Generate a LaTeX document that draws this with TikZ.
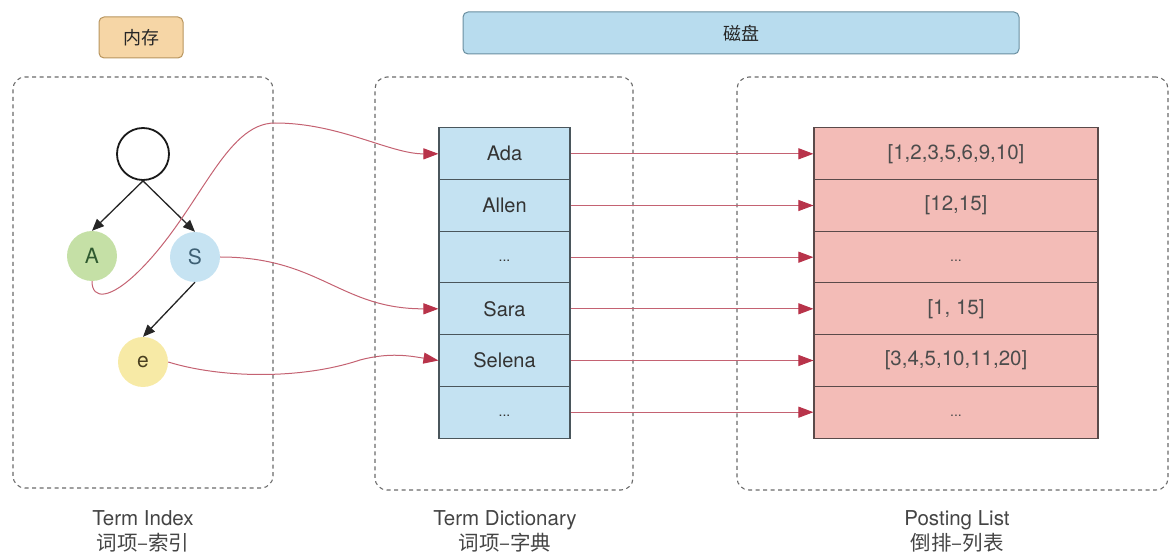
\documentclass[tikz,border=0pt]{standalone}
\usepackage{fontspec}
\setmainfont{TeX Gyre Heros}
\newfontfamily\cjk{Noto Sans CJK SC}
\usetikzlibrary{arrows.meta}

\definecolor{memfill}{HTML}{F6D6A6}
\definecolor{memline}{HTML}{B8955E}
\definecolor{diskfill}{HTML}{B8DCEE}
\definecolor{diskline}{HTML}{6A8FA0}
\definecolor{dictfill}{HTML}{C4E2F2}
\definecolor{dictline}{HTML}{4A565C}
\definecolor{postfill}{HTML}{F3BCB7}
\definecolor{postline}{HTML}{5A4A4A}
\definecolor{afill}{HTML}{C5E0A6}
\definecolor{sfill}{HTML}{C6E3F2}
\definecolor{efill}{HTML}{F7EAA6}
\definecolor{atext}{HTML}{2F5A30}
\definecolor{stext}{HTML}{3D5F73}
\definecolor{etext}{HTML}{4A4020}
\definecolor{linkred}{HTML}{C46272}
\definecolor{tipred}{HTML}{B8334A}
\definecolor{frame}{HTML}{6A6A6A}
\definecolor{labeltext}{HTML}{444444}

% small ellipsis sitting just below the row centre
\newcommand{\more}{\smash{\raisebox{-4pt}{\fontsize{14}{16}\selectfont ...}}}

\tikzset{
  tag/.style={draw, rounded corners=5pt, line width=1pt, inner sep=0pt, font=\cjk\fontsize{18}{20}\selectfont, text=black!85},
  area/.style={draw=frame, dash pattern=on 4pt off 3.5pt, line width=1.1pt, rounded corners=12pt, inner sep=0pt},
  dictrow/.style={draw=dictline, fill=dictfill, line width=1.1pt, minimum width=131pt, minimum height=51.7pt, inner sep=0pt, text=black!80, font=\fontsize{20}{22}\selectfont},
  postrow/.style={draw=postline, fill=postfill, line width=1.1pt, minimum width=284pt, minimum height=51.7pt, inner sep=0pt, text=black!70, font=\fontsize{20.5}{22}\selectfont},
  leaf/.style={circle, minimum size=50pt, inner sep=0pt, font=\fontsize{21}{22}\selectfont},
  treeedge/.style={draw=black!85, line width=1.3pt, -{Triangle[length=12pt,width=10pt]}},
  link/.style={draw=linkred, line width=1pt, -{Triangle[length=15pt,width=11pt,color=tipred]}},
  caption/.style={align=center, text=labeltext, font=\fontsize{20.5}{25}\selectfont},
}

\begin{document}
\begin{tikzpicture}[x=1pt,y=-1pt]
\useasboundingbox (0,0) rectangle (1176,556);

% storage tags
\node[tag, fill=memfill, draw=memline, minimum width=84pt, minimum height=41pt] (mem) at (141,37.5) {内存};
\node[tag, fill=diskfill, draw=diskline, minimum width=556pt, minimum height=42pt] (disk) at (741,33) {磁盘};

% dashed areas
\node[area, minimum width=260pt, minimum height=411pt] (areaA) at (143,282.5) {};
\node[area, minimum width=258pt, minimum height=413pt] (areaB) at (504,283.5) {};
\node[area, minimum width=431pt, minimum height=413pt] (areaC) at (952.5,283.5) {};

% term index tree
\node[circle, draw=black!90, fill=white, line width=1.8pt, minimum size=52pt, inner sep=0pt] (root) at (143,154) {};
\node[leaf, fill=afill, text=atext] (A) at (92,256) {A};
\node[leaf, fill=sfill, text=stext] (S) at (195,257) {S};
\node[leaf, fill=efill, text=etext] (e) at (143,362) {e};

\draw[treeedge] (root.south) -- (A.north);
\draw[treeedge] (root.south) -- (S.north);
\draw[treeedge] (S.south) -- (e.north);

% term dictionary
\node[dictrow] (d1) at (504.5,153.8) {Ada};
\node[dictrow] (d2) at (504.5,205.5) {Allen};
\node[dictrow] (d3) at (504.5,257.2) {\more};
\node[dictrow] (d4) at (504.5,308.8) {Sara};
\node[dictrow] (d5) at (504.5,360.5) {Selena};
\node[dictrow] (d6) at (504.5,412.2) {\more};

% posting lists
\node[postrow] (p1) at (956,153.8) {[1,2,3,5,6,9,10]};
\node[postrow] (p2) at (956,205.5) {[12,15]};
\node[postrow] (p3) at (956,257.2) {\more};
\node[postrow] (p4) at (956,308.8) {[1, 15]};
\node[postrow] (p5) at (956,360.5) {[3,4,5,10,11,20]};
\node[postrow] (p6) at (956,412.2) {\more};

% dictionary -> posting list
\foreach \i in {1,...,6} {
  \draw[link] (d\i.east) -- (p\i.west);
}

% index -> dictionary
\draw[link] (A.south) .. controls (92,300) and (110,300) .. (140,270)
  .. controls (200,210) and (225,123) .. (275,123)
  .. controls (340,123) and (390,154) .. (d1.west);
\draw[link] (S.east) .. controls (320,257) and (340,309) .. (d4.west);
\draw[link] (e.east) .. controls (220,378) and (300,380) .. (360,360)
  .. controls (390,352) and (410,356) .. (d5.west);

% captions
\node[caption] (capA) at (143,531) {Term Index\\{\cjk 词项–索引}};
\node[caption] (capB) at (505,531) {Term Dictionary\\{\cjk 词项–字典}};
\node[caption] (capC) at (957,531) {Posting List\\{\cjk 倒排–列表}};
\end{tikzpicture}
\end{document}
